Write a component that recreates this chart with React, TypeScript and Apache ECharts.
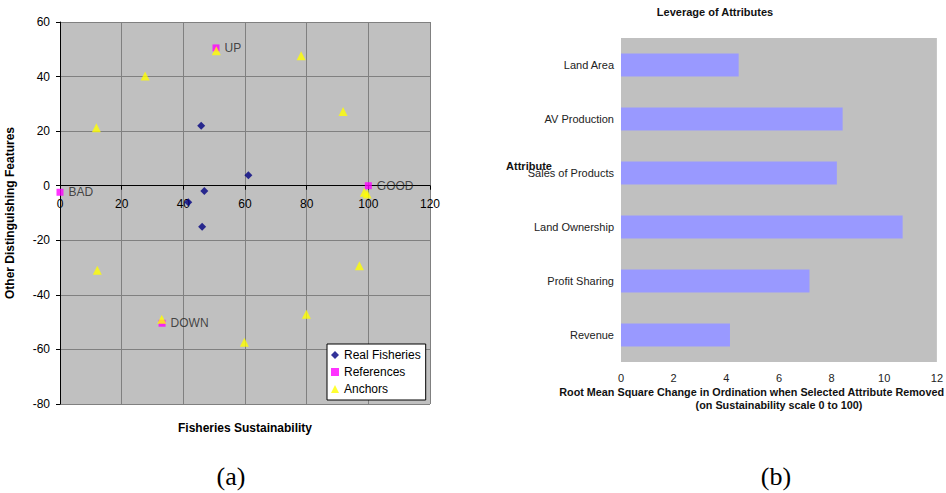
import React, { useEffect, useRef } from "react";
import * as echarts from "echarts";

// Panel (a): ordination scatter
const realX = [45.8, 61.1, 46.8, 41.6, 46.1];
const realY = [22.0, 3.8, -1.9, -6.1, -15.0];
const refNames = ["BAD", "UP", "GOOD", "DOWN"];
const refX = [0, 50.6, 100, 33.1];
const refY = [-2.4, 50.5, 0, -50.4];
const anchorX = [11.8, 27.6, 50.7, 78.2, 91.8, 98.7, 99.6, 12.1, 33.0, 59.8, 79.9, 97.1];
const anchorY = [21.2, 40.2, 49.5, 47.6, 27.2, -2.4, -3.0, -31.0, -48.9, -57.4, -47.1, -29.3];
const seriesNames = ["Real Fisheries", "References", "Anchors"];

// Panel (b): leverage of attributes
const attributes = ["Land Area", "AV Production", "Sales of Products", "Land Ownership", "Profit Sharing", "Revenue"];
const leverage = [4.47, 8.42, 8.2, 10.7, 7.16, 4.14];

const SANS = "Liberation Sans, Arial, sans-serif";
const SERIF = "Liberation Serif, Times New Roman, serif";

const Y_MIN = -80;
const Y_MAX = 60;
const GRID_H = 382;

export default function App() {
  const ref = useRef<HTMLDivElement>(null);
  useEffect(() => {
    document.body.style.margin = "0";
    const chart = echarts.init(ref.current!, null, { renderer: "svg" });
    const zeroOffset = -(GRID_H * (0 - Y_MIN)) / (Y_MAX - Y_MIN);
    const option: any = {
      animation: false,
      backgroundColor: "#ffffff",
      textStyle: { fontFamily: SANS },
      grid: [
        { left: 60, top: 22, width: 370, height: GRID_H, show: true, backgroundColor: "#c0c0c0", borderWidth: 0 },
        { left: 621, top: 38, width: 322, height: 324, show: true, backgroundColor: "#c0c0c0", borderWidth: 0 },
      ],
      xAxis: [
        {
          type: "value", gridIndex: 0, min: 0, max: 120, interval: 20,
          position: "bottom", offset: zeroOffset,
          axisLine: { show: true, onZero: false, lineStyle: { color: "#000", width: 1 } },
          axisTick: { show: true, length: 4, lineStyle: { color: "#000" } },
          axisLabel: { color: "#000", fontSize: 12, fontFamily: SANS, margin: 12 },
          splitLine: { show: true, lineStyle: { color: "#808080", width: 1 } },
        },
        {
          type: "value", gridIndex: 1, min: 0, max: 12, interval: 2,
          axisLine: { show: false }, axisTick: { show: false },
          axisLabel: { color: "#222", fontSize: 11, fontFamily: SANS, margin: 10 },
          splitLine: { show: false },
        },
      ],
      yAxis: [
        {
          type: "value", gridIndex: 0, min: Y_MIN, max: Y_MAX, interval: 20,
          name: "Other Distinguishing Features", nameLocation: "middle", nameGap: 44, nameRotate: 90,
          nameTextStyle: { color: "#000", fontSize: 12, fontWeight: "bold", fontFamily: SANS },
          axisLine: { show: true, onZero: false, lineStyle: { color: "#000", width: 1 } },
          axisTick: { show: true, length: 4, lineStyle: { color: "#000" } },
          axisLabel: { color: "#000", fontSize: 12, fontFamily: SANS, margin: 10 },
          splitLine: { show: true, lineStyle: { color: "#808080", width: 1 } },
        },
        {
          type: "category", gridIndex: 1, data: attributes, inverse: true,
          axisLine: { show: false }, axisTick: { show: false },
          axisLabel: { color: "#222", fontSize: 11, fontFamily: SANS, margin: 7 },
          splitLine: { show: false },
        },
      ],
      legend: {
        data: [
          { name: seriesNames[0], icon: "diamond" },
          { name: seriesNames[1], icon: "rect" },
          { name: seriesNames[2], icon: "triangle" },
        ],
        orient: "vertical", left: 327, top: 344, width: 99,
        itemWidth: 8, itemHeight: 8, itemGap: 5,
        padding: [5, 5, 5, 4],
        backgroundColor: "#ffffff", borderColor: "#000", borderWidth: 1, borderRadius: 0,
        textStyle: { color: "#000", fontSize: 12, fontFamily: SANS },
      },
      series: [
        {
          name: seriesNames[0], type: "scatter", xAxisIndex: 0, yAxisIndex: 0,
          symbol: "diamond", symbolSize: 8, itemStyle: { color: "#000080" },
          data: realX.map((x, i) => [x, realY[i]]),
        },
        {
          name: seriesNames[1], type: "scatter", xAxisIndex: 0, yAxisIndex: 0,
          symbol: "rect", symbolSize: 7, itemStyle: { color: "#ff00ff" },
          label: {
            show: true, position: "right", distance: 5, formatter: (p: any) => refNames[p.dataIndex],
            color: "#222", fontSize: 12, fontFamily: SANS,
          },
          data: refX.map((x, i) => [x, refY[i]]),
        },
        {
          name: seriesNames[2], type: "scatter", xAxisIndex: 0, yAxisIndex: 0,
          symbol: "triangle", symbolSize: 9, itemStyle: { color: "#ffff00" },
          data: anchorX.map((x, i) => [x, anchorY[i]]),
        },
        {
          name: "Leverage", type: "bar", xAxisIndex: 1, yAxisIndex: 1,
          barWidth: 23, itemStyle: { color: "#9999ff" },
          data: leverage,
        },
      ],
      graphic: [
        {
          type: "text", x: 245, y: 428,
          style: { text: "Fisheries Sustainability", align: "center", verticalAlign: "middle", fill: "#000", font: `bold 12px ${SANS}` },
        },
        {
          type: "text", x: 715, y: 12,
          style: { text: "Leverage of Attributes", align: "center", verticalAlign: "middle", fill: "#111", font: `bold 11px ${SANS}` },
        },
        {
          type: "text", x: 529, y: 166,
          style: { text: "Attribute", align: "center", verticalAlign: "middle", fill: "#111", font: `bold 11px ${SANS}` },
        },
        {
          type: "text", x: 944, y: 392,
          style: { text: "Root Mean Square Change in Ordination when Selected Attribute Removed", align: "right", verticalAlign: "middle", fill: "#111", font: `bold 10.8px ${SANS}` },
        },
        {
          type: "text", x: 779, y: 405,
          style: { text: "(on Sustainability scale 0 to 100)", align: "center", verticalAlign: "middle", fill: "#111", font: `bold 10.8px ${SANS}` },
        },
        {
          type: "text", x: 231, y: 476,
          style: { text: "(a)", align: "center", verticalAlign: "middle", fill: "#000", font: `26px ${SERIF}` },
        },
        {
          type: "text", x: 776, y: 476,
          style: { text: "(b)", align: "center", verticalAlign: "middle", fill: "#000", font: `26px ${SERIF}` },
        },
      ],
    };
    chart.setOption(option);
    return () => chart.dispose();
  }, []);
  return <div ref={ref} style={{ position: "absolute", left: 0, top: 0, width: 946, height: 493 }} />;
}
